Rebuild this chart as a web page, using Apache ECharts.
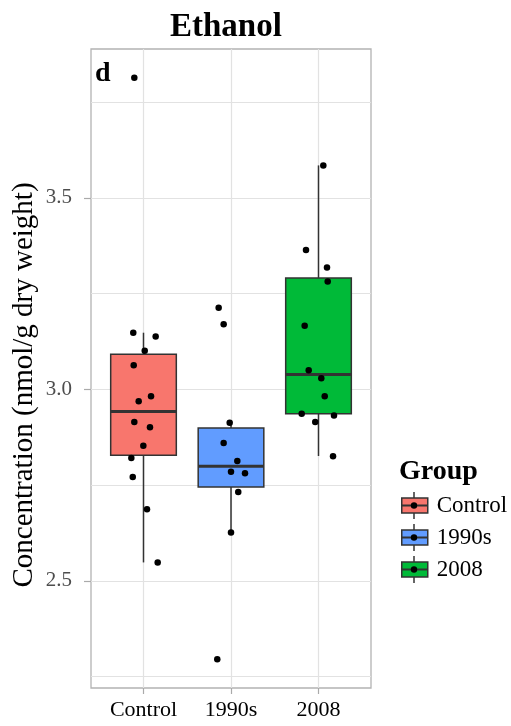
<!DOCTYPE html>
<html>
<head>
<meta charset="utf-8">
<script src="https://cdn.jsdelivr.net/npm/echarts@6/dist/echarts.min.js"></script>
<style>
  html, body { margin: 0; padding: 0; background: #fff; }
  #chart { width: 511px; height: 726px; }
</style>
</head>
<body>
<div id="chart"></div>
<script>
// Groups and their positions on the x scale
const groups = ['Control', '1990s', '2008'];
const groupPos = [1, 2, 3];
const groupColors = ['#F8766D', '#619CFF', '#00BA38'];

// Box statistics per group: [lower whisker, Q1, median, Q3, upper whisker]
const controlBox = [2.548, 2.828, 2.942, 3.092, 3.148];
const ninetiesBox = [2.626, 2.745, 2.799, 2.899, 2.913];
const recentBox = [2.826, 2.936, 3.039, 3.291, 3.585];

// Individual samples, jittered horizontally: [x, concentration]
const controlPts = [
  [0.895, 3.814], [0.883, 3.148], [1.139, 3.138], [1.014, 3.101], [0.888, 3.063],
  [0.945, 2.969], [1.086, 2.982], [0.895, 2.915], [1.074, 2.901], [0.998, 2.853],
  [0.861, 2.821], [0.877, 2.771], [1.040, 2.687], [1.162, 2.548]
];
const ninetiesPts = [
  [1.859, 3.213], [1.916, 3.170], [1.985, 2.913], [1.916, 2.860], [2.072, 2.813],
  [2.000, 2.785], [2.160, 2.781], [2.083, 2.732], [2.000, 2.626], [1.843, 2.295]
];
const recentPts = [
  [3.055, 3.585], [2.857, 3.364], [3.097, 3.318], [3.105, 3.282], [2.842, 3.166],
  [2.888, 3.050], [3.032, 3.029], [3.071, 2.982], [2.808, 2.936], [3.177, 2.932],
  [2.963, 2.915], [3.166, 2.825]
];

// Axis ticks and grid lines
const yTickValues = [2.5, 3.0, 3.5];
const yGridValues = [2.25, 2.5, 2.75, 3.0, 3.25, 3.5, 3.75];

const boxStats = [controlBox, ninetiesBox, recentBox];
const points = [controlPts, ninetiesPts, recentPts];

const FONT = '"Liberation Serif", "DejaVu Serif", serif';
const BOX_WIDTH = 0.75;
const EDGE = '#333333';

function renderBox(params, api) {
  const x = api.value(0);
  const lo = api.coord([x, api.value(1)]);
  const q1 = api.coord([x, api.value(2)]);
  const med = api.coord([x, api.value(3)]);
  const q3 = api.coord([x, api.value(4)]);
  const hi = api.coord([x, api.value(5)]);
  const w = api.size([BOX_WIDTH, 0])[0];
  const cx = lo[0];
  return {
    type: 'group',
    children: [
      { type: 'line', shape: { x1: cx, y1: lo[1], x2: cx, y2: q1[1] },
        style: { stroke: EDGE, lineWidth: 1.5 } },
      { type: 'line', shape: { x1: cx, y1: q3[1], x2: cx, y2: hi[1] },
        style: { stroke: EDGE, lineWidth: 1.5 } },
      { type: 'rect', shape: { x: cx - w / 2, y: q3[1], width: w, height: q1[1] - q3[1] },
        style: { fill: api.visual('color'), stroke: EDGE, lineWidth: 1.5 } },
      { type: 'line', shape: { x1: cx - w / 2, y1: med[1], x2: cx + w / 2, y2: med[1] },
        style: { stroke: EDGE, lineWidth: 3 } }
    ]
  };
}

const boxSeries = groups.map((g, i) => ({
  name: g,
  type: 'custom',
  z: 10,
  itemStyle: { color: groupColors[i] },
  renderItem: renderBox,
  encode: { x: 0, y: [1, 2, 3, 4, 5] },
  data: [[groupPos[i]].concat(boxStats[i])]
}));

const gridSeries = {
  name: 'grid',
  type: 'line',
  z: 1,
  silent: true,
  data: [],
  markLine: {
    z: 1,
    silent: true,
    symbol: 'none',
    animation: false,
    label: { show: false },
    lineStyle: { color: '#e2e2e2', width: 1.2, type: 'solid' },
    data: yGridValues.map(v => ({ yAxis: v })).concat(groupPos.map(v => ({ xAxis: v })))
  }
};

const pointSeries = {
  name: 'samples',
  type: 'scatter',
  z: 12,
  symbolSize: 6.5,
  itemStyle: { color: '#000', opacity: 1 },
  data: [].concat(...points)
};

// Legend key geometry
const LEG_LEFT = 401, LEG_TOP = 498, KEY_W = 26, KEY_H = 15, ROW = 32;
const LEG_TEXT = 23;
const legendMarks = [];
groups.forEach((g, i) => {
  const top = LEG_TOP + i * ROW;
  const cx = LEG_LEFT + KEY_W / 2;
  const cy = top + KEY_H / 2;
  legendMarks.push(
    { type: 'line', z: 100, shape: { x1: cx, y1: top - 6, x2: cx, y2: top }, style: { stroke: EDGE, lineWidth: 1.5 } },
    { type: 'line', z: 100, shape: { x1: cx, y1: top + KEY_H, x2: cx, y2: top + KEY_H + 6 }, style: { stroke: EDGE, lineWidth: 1.5 } },
    { type: 'line', z: 100, shape: { x1: LEG_LEFT, y1: cy, x2: LEG_LEFT + KEY_W, y2: cy }, style: { stroke: EDGE, lineWidth: 2 } },
    { type: 'circle', z: 101, shape: { cx: cx, cy: cy, r: 3.2 }, style: { fill: '#000' } }
  );
});

const chart = echarts.init(document.getElementById('chart'), null, { renderer: 'canvas' });
chart.setOption({
  animation: false,
  backgroundColor: '#fff',
  title: [
    { text: 'Ethanol', left: 165, top: 6,
      textStyle: { fontFamily: FONT, fontSize: 33, fontWeight: 'bold', color: '#000' } },
    { text: 'd', left: 95, top: 60, padding: 0,
      textStyle: { fontFamily: FONT, fontSize: 28, fontWeight: 'bold', color: '#000' } }
  ],
  grid: {
    left: 91, right: 140, top: 49, bottom: 38,
    show: true, borderColor: '#b3b3b3', borderWidth: 1.3, backgroundColor: 'transparent'
  },
  xAxis: {
    type: 'value',
    min: 0.4, max: 3.6,
    axisLine: { show: false },
    splitLine: { show: false },
    axisTick: { show: true, length: 6, customValues: groupPos, lineStyle: { color: '#aaaaaa', width: 1.2 } },
    axisLabel: {
      customValues: groupPos,
      formatter: v => groups[groupPos.indexOf(Math.round(v))] || '',
      fontFamily: FONT, fontSize: 22, color: '#000', margin: 11
    }
  },
  yAxis: {
    type: 'value',
    min: 2.22, max: 3.889,
    axisLine: { show: false },
    splitLine: { show: false },
    axisTick: { show: true, length: 7, customValues: yTickValues, lineStyle: { color: '#aaaaaa', width: 1.2 } },
    axisLabel: {
      customValues: yTickValues,
      formatter: v => v.toFixed(1),
      fontFamily: FONT, fontSize: 21, color: '#4d4d4d', margin: 19
    }
  },
  legend: {
    orient: 'vertical',
    left: LEG_LEFT, top: LEG_TOP - (LEG_TEXT - KEY_H) / 2,
    padding: 0,
    icon: 'rect',
    itemWidth: KEY_W, itemHeight: KEY_H, itemGap: ROW - LEG_TEXT,
    selectedMode: false,
    data: groups,
    itemStyle: { borderColor: EDGE, borderWidth: 1.5 },
    textStyle: { fontFamily: FONT, fontSize: LEG_TEXT, color: '#000', padding: [0, 0, 0, 4] }
  },
  graphic: [
    { type: 'text', left: 399, top: 458, z: 100,
      style: { text: 'Group', font: 'bold 28px ' + FONT, fill: '#000' } },
    { type: 'text', x: 24, y: 385, rotation: Math.PI / 2, z: 100,
      style: { text: 'Concentration (nmol/g dry weight)', font: '29px ' + FONT, fill: '#000',
               textAlign: 'center', textVerticalAlign: 'middle' } }
  ].concat(legendMarks),
  series: [gridSeries].concat(boxSeries, [pointSeries])
});
</script>
</body>
</html>
